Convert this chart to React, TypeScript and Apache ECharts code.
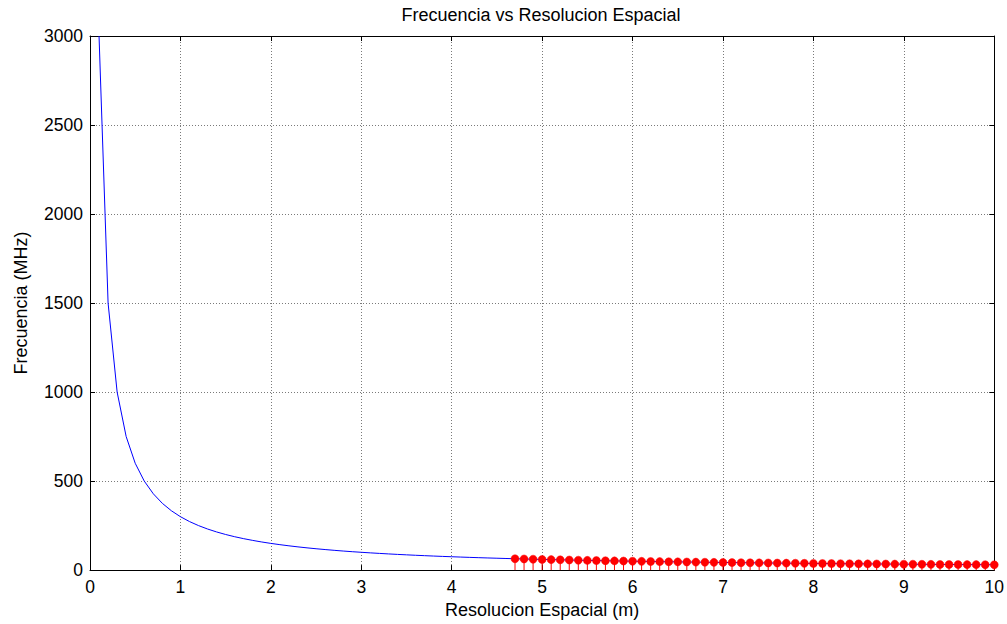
import React, { useEffect, useRef } from "react";
import * as echarts from "echarts";

const chartTitle = "Frecuencia vs Resolucion Espacial";
const xAxisName = "Resolucion Espacial (m)";
const yAxisName = "Frecuencia (MHz)";

const resolution = [
  0.1, 0.2, 0.3, 0.4, 0.5, 0.6, 0.7, 0.8, 0.9, 1.0,
  1.1, 1.2, 1.3, 1.4, 1.5, 1.6, 1.7, 1.8, 1.9, 2.0,
  2.1, 2.2, 2.3, 2.4, 2.5, 2.6, 2.7, 2.8, 2.9, 3.0,
  3.1, 3.2, 3.3, 3.4, 3.5, 3.6, 3.7, 3.8, 3.9, 4.0,
  4.1, 4.2, 4.3, 4.4, 4.5, 4.6, 4.7, 4.8, 4.9, 5.0,
  5.1, 5.2, 5.3, 5.4, 5.5, 5.6, 5.7, 5.8, 5.9, 6.0,
  6.1, 6.2, 6.3, 6.4, 6.5, 6.6, 6.7, 6.8, 6.9, 7.0,
  7.1, 7.2, 7.3, 7.4, 7.5, 7.6, 7.7, 7.8, 7.9, 8.0,
  8.1, 8.2, 8.3, 8.4, 8.5, 8.6, 8.7, 8.8, 8.9, 9.0,
  9.1, 9.2, 9.3, 9.4, 9.5, 9.6, 9.7, 9.8, 9.9, 10.0,
];

const frequency = [
  3000, 1500, 1000, 750, 600, 500, 428.6, 375, 333.3, 300,
  272.7, 250, 230.8, 214.3, 200, 187.5, 176.5, 166.7, 157.9, 150,
  142.9, 136.4, 130.4, 125, 120, 115.4, 111.1, 107.1, 103.4, 100,
  96.8, 93.8, 90.9, 88.2, 85.7, 83.3, 81.1, 78.9, 76.9, 75,
  73.2, 71.4, 69.8, 68.2, 66.7, 65.2, 63.8, 62.5, 61.2, 60,
  58.8, 57.7, 56.6, 55.6, 54.5, 53.6, 52.6, 51.7, 50.8, 50,
  49.2, 48.4, 47.6, 46.9, 46.2, 45.5, 44.8, 44.1, 43.5, 42.9,
  42.3, 41.7, 41.1, 40.5, 40, 39.5, 39, 38.5, 38, 37.5,
  37, 36.6, 36.1, 35.7, 35.3, 34.9, 34.5, 34.1, 33.7, 33.3,
  33, 32.6, 32.3, 31.9, 31.6, 31.3, 30.9, 30.6, 30.3, 30,
];

const stemResolution = [
  4.7, 4.8, 4.9, 5.0,
  5.1, 5.2, 5.3, 5.4, 5.5, 5.6, 5.7, 5.8, 5.9, 6.0,
  6.1, 6.2, 6.3, 6.4, 6.5, 6.6, 6.7, 6.8, 6.9, 7.0,
  7.1, 7.2, 7.3, 7.4, 7.5, 7.6, 7.7, 7.8, 7.9, 8.0,
  8.1, 8.2, 8.3, 8.4, 8.5, 8.6, 8.7, 8.8, 8.9, 9.0,
  9.1, 9.2, 9.3, 9.4, 9.5, 9.6, 9.7, 9.8, 9.9, 10.0,
];

const stemFrequency = [
  63.8, 62.5, 61.2, 60,
  58.8, 57.7, 56.6, 55.6, 54.5, 53.6, 52.6, 51.7, 50.8, 50,
  49.2, 48.4, 47.6, 46.9, 46.2, 45.5, 44.8, 44.1, 43.5, 42.9,
  42.3, 41.7, 41.1, 40.5, 40, 39.5, 39, 38.5, 38, 37.5,
  37, 36.6, 36.1, 35.7, 35.3, 34.9, 34.5, 34.1, 33.7, 33.3,
  33, 32.6, 32.3, 31.9, 31.6, 31.3, 30.9, 30.6, 30.3, 30,
];

const xMin = 0;
const xMax = 10;
const xStep = 1;
const yMin = 0;
const yMax = 3000;
const yStep = 500;

const FONT = "'Liberation Sans', Arial, sans-serif";

export default function App() {
  const ref = useRef<HTMLDivElement>(null);

  useEffect(() => {
    if (!ref.current) return;
    const chart = echarts.init(ref.current, null, { renderer: "svg" });

    const lineData = resolution.map((x, i) => [x, frequency[i]]);
    const stemData = stemResolution.map((x, i) => [x, stemFrequency[i]]);

    const axisLine = { show: true, onZero: false, lineStyle: { color: "#000", width: 1 } };
    const axisTick = { show: true, inside: true, length: 5, lineStyle: { color: "#000", width: 1 } };
    const gridLine = { show: true, lineStyle: { color: "#7a7a7a", type: [1, 2] as any, width: 1 } };
    const labelStyle = {
      color: "#000",
      fontSize: 17.5,
      fontFamily: FONT,
      formatter: (v: number) => String(v),
    };

    chart.setOption({
      animation: false,
      backgroundColor: "#fff",
      title: {
        text: chartTitle,
        left: 541,
        top: 6,
        padding: 0,
        textAlign: "center",
        textStyle: { color: "#000", fontSize: 18, fontWeight: "normal", fontFamily: FONT },
      },
      grid: { left: 90, right: 10, top: 36, bottom: 53, containLabel: false },
      xAxis: [
        {
          type: "value",
          min: xMin,
          max: xMax,
          interval: xStep,
          position: "bottom",
          name: xAxisName,
          nameLocation: "middle",
          nameGap: 26,
          nameTextStyle: { color: "#000", fontSize: 18, fontFamily: FONT },
          axisLine,
          axisTick,
          axisLabel: { ...labelStyle, margin: 8 },
          splitLine: gridLine,
        },
        {
          type: "value",
          min: xMin,
          max: xMax,
          interval: xStep,
          position: "top",
          axisLine,
          axisTick,
          axisLabel: { show: false },
          splitLine: { show: false },
        },
      ],
      yAxis: [
        {
          type: "value",
          min: yMin,
          max: yMax,
          interval: yStep,
          position: "left",
          name: yAxisName,
          nameLocation: "middle",
          nameGap: 60,
          nameTextStyle: { color: "#000", fontSize: 18, fontFamily: FONT },
          axisLine,
          axisTick,
          axisLabel: { ...labelStyle, margin: 7 },
          splitLine: gridLine,
        },
        {
          type: "value",
          min: yMin,
          max: yMax,
          interval: yStep,
          position: "right",
          axisLine,
          axisTick,
          axisLabel: { show: false },
          splitLine: { show: false },
        },
      ],
      series: [
        {
          type: "line",
          data: lineData,
          xAxisIndex: 0,
          yAxisIndex: 0,
          showSymbol: false,
          symbol: "none",
          lineStyle: { color: "#0000ff", width: 1 },
          z: 2,
        },
        {
          type: "custom",
          data: stemData,
          xAxisIndex: 0,
          yAxisIndex: 0,
          encode: { x: 0, y: 1 },
          z: 3,
          renderItem: (params: any, api: any) => {
            const x = api.value(0);
            const y = api.value(1);
            const top = api.coord([x, y]);
            const base = api.coord([x, 0]);
            return {
              type: "group",
              children: [
                {
                  type: "line",
                  shape: { x1: top[0], y1: top[1], x2: base[0], y2: base[1] },
                  style: { stroke: "#ff0000", lineWidth: 1 },
                },
                {
                  type: "circle",
                  shape: { cx: top[0], cy: top[1], r: 4 },
                  style: { fill: "#ff0000", stroke: "#ff0000", lineWidth: 0.5 },
                },
              ],
            };
          },
        },
      ],
    });

    return () => chart.dispose();
  }, []);

  return (
    <div
      ref={ref}
      style={{ position: "fixed", left: 0, top: 0, width: 1007, height: 624, background: "#fff" }}
    />
  );
}
